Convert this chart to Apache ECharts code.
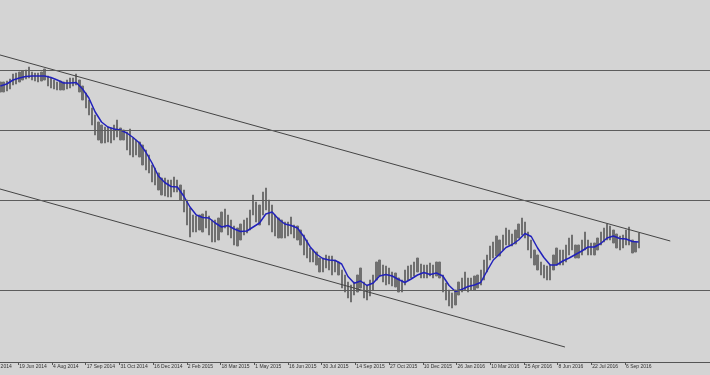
<!DOCTYPE html>
<html>
<head>
<meta charset="utf-8">
<script src="https://cdn.jsdelivr.net/npm/echarts@6/dist/echarts.min.js"></script>
<style>
html,body{margin:0;padding:0;background:#d4d4d4;}
#chart{width:710px;height:375px;}
</style>
</head>
<body>
<div id="chart"></div>
<script>
// Tick labels (one every 32 daily bars)
const labelTexts = ['5 May 2014','19 Jun 2014','4 Aug 2014','17 Sep 2014','31 Oct 2014','16 Dec 2014','2 Feb 2015','18 Mar 2015','1 May 2015','16 Jun 2015','30 Jul 2015','14 Sep 2015','27 Oct 2015','10 Dec 2015','26 Jan 2016','10 Mar 2016','25 Apr 2016','8 Jun 2016','22 Jul 2016','6 Sep 2016'];
const labelBars = [0,32,64,96,128,160,192,224,256,288,320,352,384,416,448,480,512,544,576,608];

// Price bars: one sample every 3 daily bars, starting at bar 15
const barStart = 15, barStep = 3;
const highs = [
.918,.918,.919,.921,.926,.927,.928,.929,.930,.933,
.928,.927,.927,.928,.931,.924,.922,.920,.918,.919,
.918,.920,.922,.922,.926,.920,.914,.907,.900,.892,
.885,.878,.875,.873,.873,.872,.875,.880,.872,.870,
.868,.871,.862,.860,.858,.855,.850,.845,.835,.832,
.827,.822,.822,.820,.820,.823,.820,.815,.810,.800,
.792,.785,.784,.785,.786,.789,.784,.780,.780,.782,
.788,.791,.785,.780,.774,.772,.776,.780,.782,.790,
.805,.798,.795,.808,.812,.800,.795,.785,.782,.780,
.778,.778,.783,.775,.774,.770,.765,.760,.752,.750,
.748,.742,.742,.745,.744,.744,.740,.738,.730,.725,
.718,.715,.718,.725,.732,.718,.715,.720,.725,.738,
.740,.735,.734,.732,.728,.727,.722,.720,.730,.734,
.735,.738,.742,.736,.735,.735,.737,.735,.738,.738,
.725,.717,.710,.707,.710,.718,.722,.728,.722,.722,
.724,.725,.730,.740,.745,.754,.758,.764,.760,.765,
.772,.770,.766,.770,.776,.782,.778,.768,.760,.750,
.745,.738,.735,.734,.735,.745,.752,.750,.750,.755,
.762,.765,.755,.755,.760,.768,.760,.757,.757,.762,
.768,.772,.776,.774,.770,.766,.764,.765,.770,.773,
.760,.758,.767];
const lows = [
.908,.908,.909,.911,.915,.916,.918,.920,.921,.922,
.920,.919,.918,.919,.920,.914,.912,.911,.910,.910,
.910,.911,.912,.914,.915,.908,.900,.892,.885,.875,
.865,.860,.857,.857,.858,.857,.860,.863,.860,.860,
.850,.845,.843,.845,.843,.835,.830,.827,.818,.815,
.810,.805,.804,.803,.803,.808,.808,.800,.788,.775,
.763,.768,.768,.770,.768,.772,.765,.758,.758,.760,
.768,.772,.765,.762,.755,.754,.760,.765,.767,.770,
.785,.778,.775,.785,.790,.775,.768,.764,.762,.762,
.762,.764,.766,.762,.760,.755,.745,.742,.738,.738,
.735,.728,.728,.732,.730,.725,.728,.725,.712,.708,
.702,.698,.705,.708,.712,.702,.700,.704,.710,.720,
.724,.718,.715,.716,.714,.713,.708,.708,.715,.720,
.722,.724,.728,.722,.722,.722,.724,.722,.724,.722,
.708,.700,.694,.692,.695,.705,.708,.710,.708,.710,
.710,.712,.715,.720,.728,.740,.742,.744,.744,.750,
.755,.755,.754,.756,.762,.765,.762,.750,.742,.735,
.730,.725,.722,.720,.720,.730,.735,.735,.735,.738,
.745,.750,.742,.742,.745,.750,.745,.745,.745,.750,
.755,.758,.760,.760,.757,.752,.750,.752,.755,.755,
.747,.748,.752];

// Moving average: one value every 6 bars, starting at bar 15
const maStart = 15, maStep = 6;
const maValues = [
.914,.916,.920,.922,.9235,.924,.924,.924,.9225,.920,
.917,.917,.9175,.911,.902,.888,.878,.873,.871,.870,
.867,.8625,.857,.848,.837,.824,.8175,.8135,.813,.804,
.793,.785,.7825,.782,.777,.773,.7745,.771,.7685,.769,
.773,.777,.786,.788,.781,.776,.7745,.772,.7635,.7533,
.746,.7415,.740,.7395,.736,.7235,.7167,.719,.7145,.717,
.724,.7255,.724,.7205,.7175,.721,.725,.7275,.7255,.727,
.724,.7145,.7085,.7105,.7135,.715,.7175,.729,.740,.746,
.7525,.7555,.760,.7665,.7635,.752,.7425,.735,.735,.739,
.742,.7455,.749,.753,.753,.7565,.762,.764,.7615,.761,
.7585,.758];

// Horizontal levels and trend lines [bar, price]
const levels = [0.9257, 0.8717, 0.8027, 0.7107];
const upperTrend = [[0, 0.9493], [651, 0.759]];
const lowerTrend = [[0, 0.8153], [551, 0.653]];

const candleData = highs.map((h, i) => [barStart + barStep * i, lows[i], h, lows[i], h]);
const maData = maValues.map((v, i) => [maStart + maStep * i, v]);

const chart = echarts.init(document.getElementById('chart'), null, {renderer: 'canvas'});
chart.setOption({
  backgroundColor: '#d4d4d4',
  animation: false,
  grid: {left: -15.4, width: 741.5, top: 0, height: 362, containLabel: false, outerBoundsMode: 'none'},
  xAxis: {
    type: 'value', min: 0, max: 704, interval: 32,
    axisLine: {show: true, onZero: false, lineStyle: {color: '#555555', width: 1}},
    axisTick: {show: true, length: 3, customValues: labelBars, lineStyle: {color: '#555555'}},
    axisLabel: {
      show: true, customValues: labelBars, fontSize: 5, color: '#333333',
      fontFamily: 'Liberation Sans', align: 'left', margin: 2, padding: [0, 0, 0, 1],
      showMinLabel: true, showMaxLabel: true, hideOverlap: false,
      formatter: function (v) { const k = labelBars.indexOf(v); return k >= 0 ? labelTexts[k] : ''; }
    },
    splitLine: {show: false}
  },
  yAxis: {
    type: 'value', min: 0.638, max: 1.0, show: false, splitLine: {show: false}
  },
  series: [
    {
      type: 'line', data: upperTrend, symbol: 'none', silent: true,
      lineStyle: {color: '#444444', width: 1},
      markLine: {
        silent: true, symbol: ['none', 'none'], label: {show: false},
        lineStyle: {color: '#5c5c5c', width: 1, type: 'solid'},
        data: levels.map(v => ({yAxis: v}))
      }
    },
    {type: 'line', data: lowerTrend, symbol: 'none', silent: true, lineStyle: {color: '#444444', width: 1}},
    {
      type: 'candlestick', data: candleData, barWidth: 1.8,
      itemStyle: {color: '#707070', color0: '#707070', borderColor: '#707070', borderColor0: '#707070', borderWidth: 1}
    },
    {type: 'line', data: maData, symbol: 'none', smooth: false, lineStyle: {color: '#2222bb', width: 1.5}}
  ]
});
</script>
</body>
</html>
